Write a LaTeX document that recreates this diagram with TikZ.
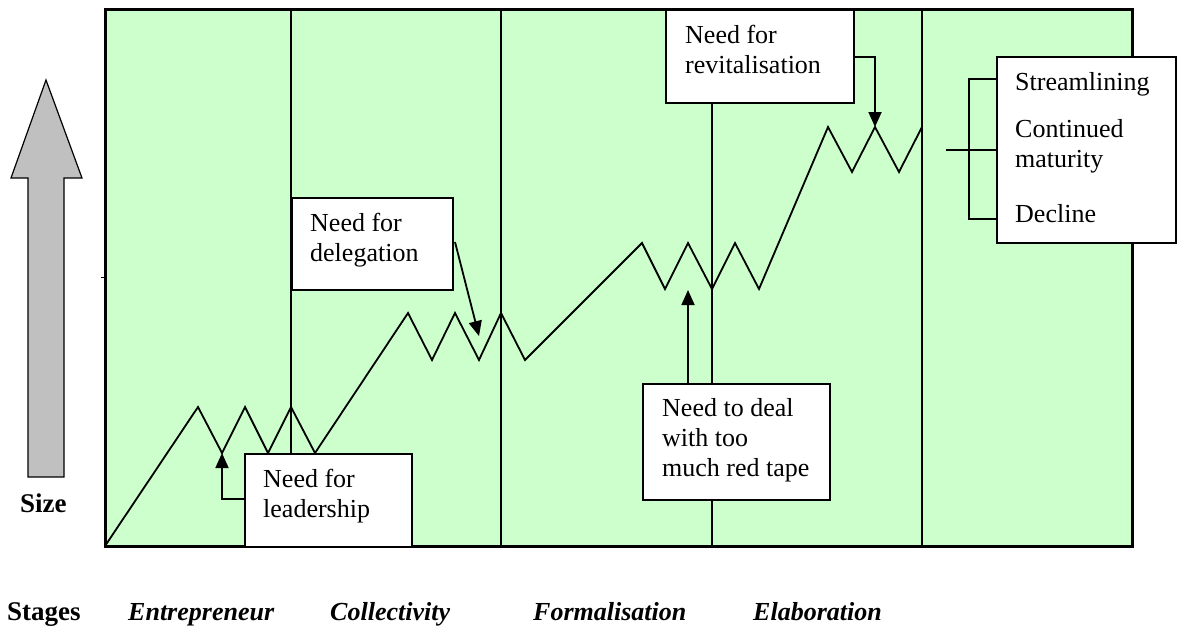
\documentclass[tikz,border=0pt]{standalone}
\usepackage{fontspec}
\setmainfont{Liberation Serif}
\usetikzlibrary{arrows.meta,calc}
\definecolor{stagegreen}{HTML}{CCFFCC}
\definecolor{sizegray}{HTML}{C0C0C0}
\begin{document}
\begin{tikzpicture}[x=1pt,y=-1pt,
  frame/.style={draw=black,line width=3pt,fill=stagegreen},
  divider/.style={draw=black,line width=1.3pt},
  growth/.style={draw=black,line width=1.8pt,line join=miter},
  notebox/.style={draw=black,line width=1.8pt,fill=white,rectangle,inner sep=0pt,anchor=north west},
  notetext/.style={anchor=base west,inner sep=0pt,font=\fontsize{26}{30}\selectfont,align=left},
  pointer/.style={draw=black,line width=1.8pt,-{Triangle[length=15pt,width=13pt]}},
  bracket/.style={draw=black,line width=1.8pt},
  stagelabel/.style={anchor=base west,inner sep=0pt,font=\fontsize{26}{30}\selectfont\bfseries\itshape},
  axislabel/.style={anchor=base west,inner sep=0pt,font=\fontsize{27}{31}\selectfont\bfseries}]
\useasboundingbox (0,0) rectangle (1180,630);

% stage panel
\draw[frame] (105,9) rectangle (1132,546);
\draw[black,line width=1pt] (101,277) -- (105,277);

% stage boundaries
\foreach \xx in {291,501,712,922}
  \draw[divider] (\xx,9) -- (\xx,546);

% growth curve with its crises
\draw[growth] (105,546)
  -- (198,407) -- (222,453) coordinate (v1) -- (245,407) -- (268,453) -- (291,407) -- (315,453)
  -- (408,313) -- (432,360) -- (455,313) -- (479,360) coordinate (v2) -- (501,313) -- (525,360)
  -- (642,243) -- (665,289) -- (688,243) coordinate (p3) -- (712,289) -- (735,243) -- (759,289)
  -- (828,127) -- (852,172) -- (875,127) coordinate (p4) -- (899,172) -- (922,127);

% note boxes (text anchored on the baseline of its last line)
\node[notebox,minimum width=167pt,minimum height=93pt] (lead) at (244,453) {};
\node[notetext] at (263,517) {Need for\\leadership};

\node[notebox,minimum width=161pt,minimum height=92pt] (dele) at (291,197) {};
\node[notetext] at (310,261) {Need for\\delegation};

\node[notebox,minimum width=187pt,minimum height=116pt] (tape) at (642,383) {};
\node[notetext] at (662,476) {Need to deal\\with too\\much red tape};

\node[notebox,minimum width=188pt,minimum height=93pt] (revi) at (665,9) {};
\node[notetext] at (685,73) {Need for\\revitalisation};

\node[notebox,minimum width=179pt,minimum height=186pt] (outc) at (996,56) {};
\node[notetext] at (1015,90) {Streamlining};
\node[notetext] at (1015,167) {Continued\\maturity};
\node[notetext] at (1015,222) {Decline};

% pointers from notes to the curve
\coordinate (leadout) at (244,499);
\coordinate (deleout) at (455,242);
\coordinate (revout) at (853,57);
\draw[pointer] (leadout) -| (v1);
\draw[pointer] (deleout) -- ($(v2)+(0,-24)$);
\draw[pointer] (p3 |- tape.north) -- ($(p3)+(0,47)$);
\draw[pointer] (revout) -| (p4);

% outcome bracket
\coordinate (bt) at (969,79);
\coordinate (bb) at (969,219);
\coordinate (bm) at (946,150);
\draw[bracket] (outc.west |- bt) -- (bt) -- (bb) -- (outc.west |- bb);
\draw[bracket] (bm) -- (outc.west |- bm);

% size arrow
\draw[black,line width=1.2pt,fill=sizegray]
  (46,80) -- (82,178) -- (64,178) -- (64,477) -- (28,477) -- (28,178) -- (11,178) -- cycle;
\node[axislabel] (size) at (20,512) {Size};

% stage names
\node[axislabel] (stages) at (7,620) {Stages};
\node[stagelabel] (s1) at (128,620) {Entrepreneur};
\node[stagelabel] (s2) at (330,620) {Collectivity};
\node[stagelabel] (s3) at (533,620) {Formalisation};
\node[stagelabel] (s4) at (753,620) {Elaboration};
\end{tikzpicture}
\end{document}
